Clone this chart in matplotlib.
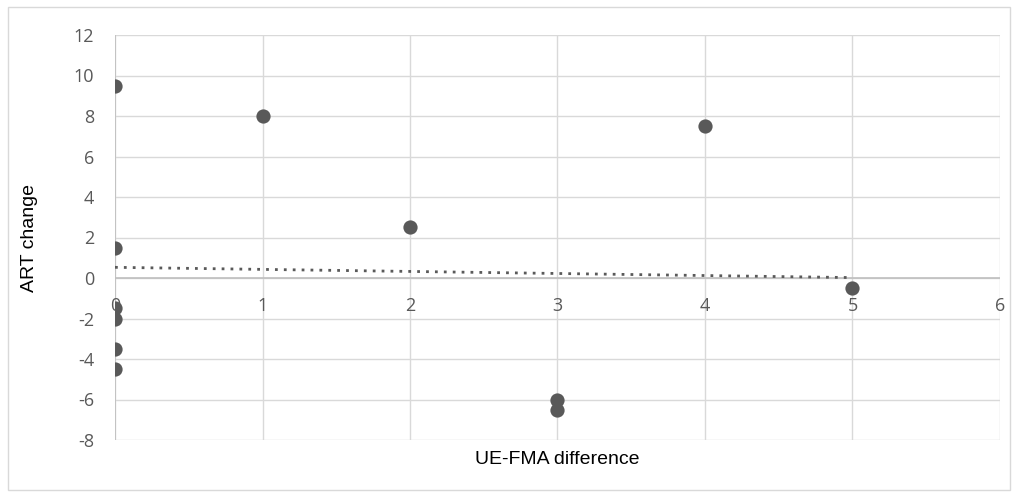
import matplotlib
matplotlib.use("Agg")
import matplotlib.pyplot as plt
import numpy as np
from matplotlib.patches import Rectangle

plt.rcParams["axes.unicode_minus"] = False

x_vals = [0, 0, 0, 0, 0, 0, 1, 2, 3, 3, 4, 5]
y_vals = [9.5, 1.5, -1.5, -2, -3.5, -4.5, 8, 2.5, -6, -6.5, 7.5, -0.5]
x_ticks = [0, 1, 2, 3, 4, 5, 6]
y_ticks = [-8, -6, -4, -2, 0, 2, 4, 6, 8, 10, 12]

fig = plt.figure(figsize=(10.19, 4.97), dpi=100)
fig.patches.append(Rectangle((8/1019, 7/497), 1002/1019, 483/497, transform=fig.transFigure,
                             fill=False, edgecolor="#d9d9d9", linewidth=1))
ax = fig.add_axes([115/1019, 1-440/497, 885/1019, 405/497])

grid_c = "#d9d9d9"
for yt in y_ticks:
    ax.axhline(yt, color=grid_c, lw=1, zorder=0)
for xt in x_ticks:
    ax.axvline(xt, color=grid_c, lw=1, zorder=0)
ax.axhline(0, color="#bfbfbf", lw=1.2, zorder=1)
ax.axvline(0, color="#bfbfbf", lw=1.2, zorder=1)

# trendline
coef = np.polyfit(x_vals, y_vals, 1)
tx = np.array([min(x_vals), max(x_vals)])
ax.plot(tx, np.polyval(coef, tx), linestyle=(0, (1, 2.2)), color="#595959", lw=2, zorder=2)

ax.scatter(x_vals, y_vals, s=105, color="#595959", zorder=3, linewidths=0)

ax.set_xlim(0, 6)
ax.set_ylim(-8, 12)
for s in ax.spines.values():
    s.set_visible(False)
ax.set_xticks([])
ax.set_yticks(y_ticks)
ax.set_yticklabels([str(v) for v in y_ticks])
ax.tick_params(axis="y", length=0, pad=15, labelcolor="#595959", labelsize=13)
for lab in ax.get_yticklabels():
    lab.set_fontfamily("Open Sans")
for xt in x_ticks:
    ax.text(xt, -1.4, str(xt), ha="center", va="center", color="#595959",
            fontsize=13, fontfamily="Open Sans", zorder=2)

fig.text(30/1019, 1-238/497, "ART change", rotation=90, ha="center", va="center",
         fontsize=14, fontfamily="Liberation Sans", color="black")
fig.text(557/1019, 1-460/497, "UE-FMA difference", ha="center", va="center",
         fontsize=14, fontfamily="Liberation Sans", color="black")

fig.savefig("out.png", dpi=100)
